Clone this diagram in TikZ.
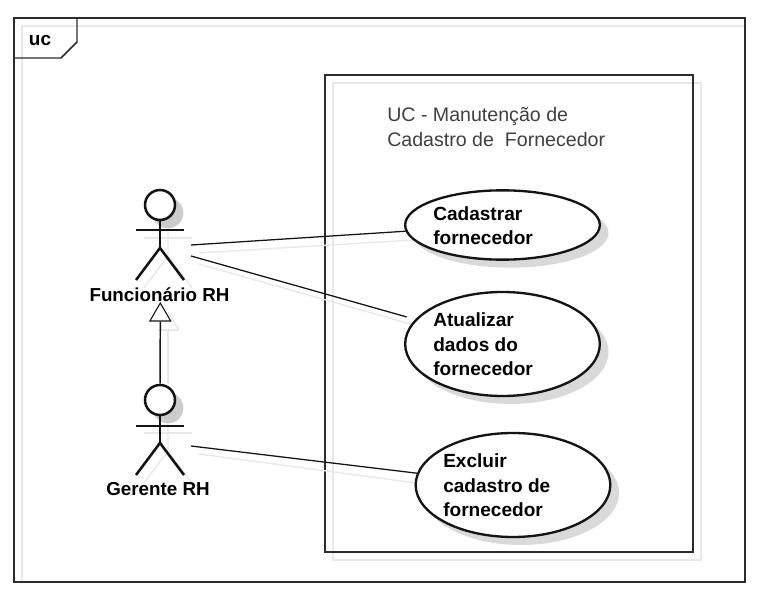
\documentclass[tikz,border=0pt]{standalone}
\usepackage{fontspec}
\setmainfont{Liberation Sans}
\usetikzlibrary{shapes.geometric}
\definecolor{ink}{gray}{0.08}
\definecolor{shad}{gray}{0.85}
\definecolor{shadhead}{gray}{0.8}
\definecolor{softline}{gray}{0.91}
\tikzset{
  x=0.75pt,y=-0.75pt,
  frameline/.style={draw=ink!90,line width=1.1pt},
  softedge/.style={draw=softline,line width=1pt},
  usecase/.style={ellipse,draw=ink,fill=white,line width=1.75pt,inner sep=0pt,minimum width=146pt,minimum height=#1},
  caseshadow/.style={ellipse,fill=shad,inner sep=0pt,minimum width=147pt,minimum height=#1},
  caselabel/.style={align=left,anchor=west,font=\fontsize{14.3}{18.4}\selectfont\bfseries,text=black,inner sep=0pt},
  actorlabel/.style={font=\fontsize{14.1}{17}\selectfont\bfseries,text=black,inner sep=0pt},
  titlelabel/.style={align=left,anchor=west,font=\fontsize{14.7}{18.2}\selectfont,text=black!75,inner sep=0pt},
  assoc/.style={draw=ink,line width=0.95pt},
  actorline/.style={draw=ink,line width=1.9pt},
  actorhead/.style={circle,draw=ink,line width=1.9pt,fill=white,inner sep=0pt,minimum size=22.5pt},
  headshadow/.style={circle,fill=shadhead,inner sep=0pt,minimum size=23pt},
}
\begin{document}
\begin{tikzpicture}
\useasboundingbox (0,0) rectangle (765,599);
\fill[white] (0,0) rectangle (765,599);
% soft shadows of frames
\draw[softedge] (22,582) -- (22,26) -- (745,26);
\draw[softedge] (333,83) rectangle (701,560);
% outer frame
\draw[frameline] (14,18) rectangle (745,582);
\draw[frameline] (14,58) -- (61,58) -- (77,42) -- (77,18);
\node[font=\fontsize{14.2}{17}\selectfont\bfseries,inner sep=0pt] (uc) at (40,41) {uc};
% system box
\draw[frameline] (325,75) rectangle (693,552);
\node[titlelabel] (title) at (387,127) {UC - Manutenção de\\Cadastro de\ \ Fornecedor};
% coordinates
\coordinate (fa) at (191,245);
\coordinate (fb) at (191,256);
\coordinate (ga) at (191,446);
% connector shadows
\draw[softedge] (199,253) -- (413,240);
\draw[softedge] (199,264) -- (414,325);
\draw[softedge] (199,454) -- (424,484);
% actor shadows
\foreach \yy in {205,400}{
  \node[headshadow] at (168,\yy+8) {};
  \draw[softedge] (144,\yy+33) -- (192,\yy+33);
  \draw[softedge] (168,\yy+23) -- (168,\yy+51) -- (144,\yy+83);
  \draw[softedge] (168,\yy+51) -- (192,\yy+83);
}
\draw[softedge] (168,330) -- (168,384);
\draw[softedge] (158,330) -- (179,330);
\draw[softedge] (168,312) -- (179,330);
% use cases
\node[caseshadow=52pt] at (510.5,233) {};
\node[caseshadow=78pt] at (510.5,352) {};
\node[caseshadow=78pt] at (521,493) {};
\node[usecase=52pt] (cad) at (502.5,225) {};
\node[usecase=78pt] (atu) at (502.5,344) {};
\node[usecase=78pt] (exc) at (513,485) {};
\node[caselabel] (cadt) at (433,225.5) {Cadastrar\\fornecedor};
\node[caselabel] (atut) at (433,344.5) {Atualizar\\dados do\\fornecedor};
\node[caselabel] (exct) at (443,485.5) {Excluir\\cadastro de\\fornecedor};
% actors
\node[actorhead] (h1) at (160,205) {};
\node[actorhead] (h2) at (160,400) {};
\coordinate (hip1) at (160,248);
\coordinate (hip2) at (160,443);
\draw[actorline] (h1) -- (hip1);
\draw[actorline] (136,230) -- (184,230);
\draw[actorline] (136,280) -- (hip1) -- (184,280);
\draw[actorline] (h2) -- (hip2);
\draw[actorline] (136,426) -- (184,426);
\draw[actorline] (136,475) -- (hip2) -- (184,475);
\node[actorlabel] (fl) at (159.5,295) {Funcionário RH};
\node[actorlabel] (gl) at (158,489) {Gerente RH};
% generalization
\node[isosceles triangle,isosceles triangle apex angle=60,shape border rotate=90,draw=ink,fill=white,line width=0.8pt,inner sep=0pt,minimum height=13.5pt,minimum width=15pt] (tri) at (160.3,315) {};
\draw[assoc,line width=1.1pt] (h2) -- (tri.south);
% associations
\draw[assoc] (fa) -- (cad);
\draw[assoc,shorten >=6.7pt] (fb) -- (atu);
\draw[assoc] (ga) -- (exc.173);
\end{tikzpicture}
\end{document}
